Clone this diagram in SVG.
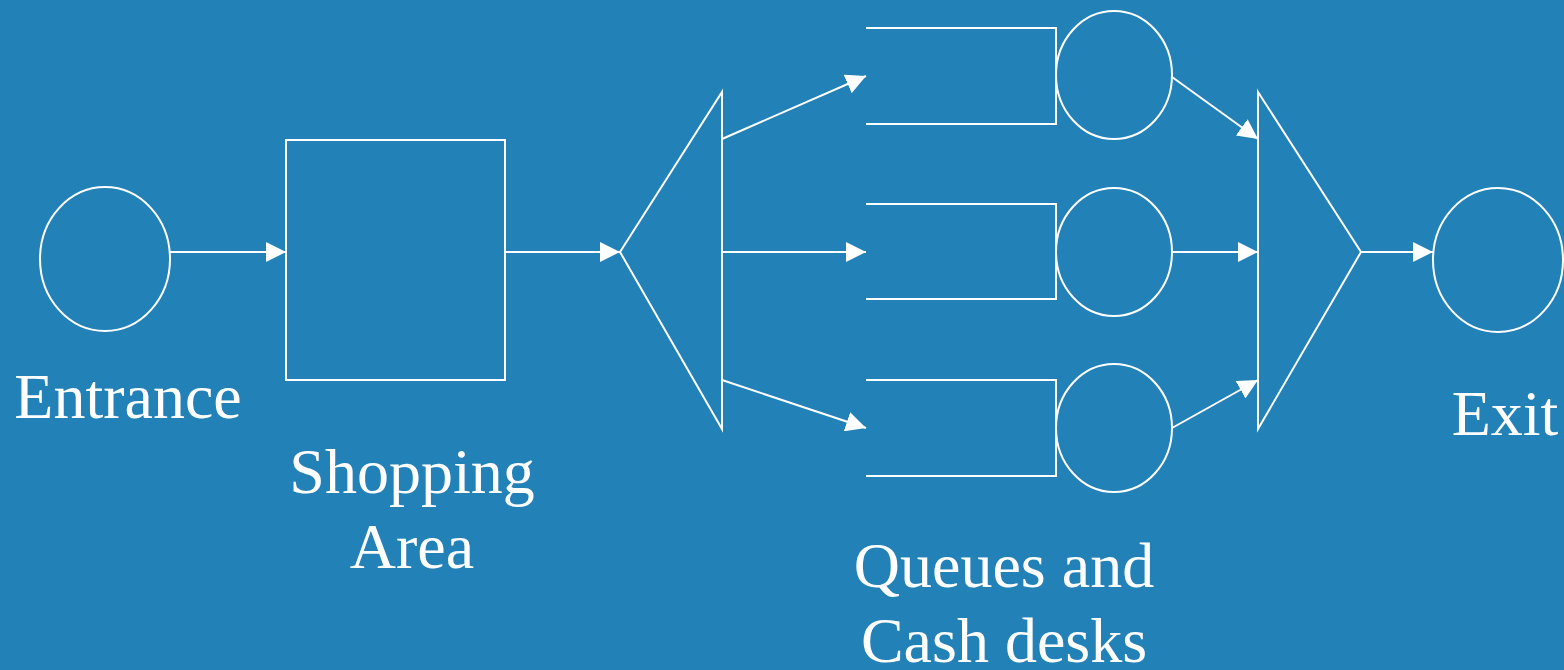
<svg xmlns="http://www.w3.org/2000/svg" width="1564" height="670" viewBox="0 0 1564 670">
  <defs>
    <marker id="arrow" markerWidth="20" markerHeight="20" refX="20" refY="10" orient="auto" markerUnits="userSpaceOnUse">
      <path d="M0,0 L20,10 L0,20 z" fill="#ffffff"/>
    </marker>
    <style>
      .shape { fill: none; stroke: #ffffff; stroke-width: 2; }
      .link { fill: none; stroke: #ffffff; stroke-width: 2; marker-end: url(#arrow); }
      .label { fill: #ffffff; font-family: "Liberation Serif", "Times New Roman", serif; font-size: 64px; text-anchor: middle; }
    </style>
  </defs>
  <rect x="0" y="0" width="1564" height="670" fill="#2281b7"/>

  <g id="entrance">
    <ellipse class="shape" cx="105" cy="259" rx="65" ry="72"/>
    <text class="label" x="128" y="418">Entrance</text>
  </g>

  <g id="shopping-area">
    <rect class="shape" x="286" y="140" width="219" height="240"/>
    <text class="label" x="412" y="493">Shopping</text>
    <text class="label" x="412" y="568">Area</text>
  </g>

  <g id="split">
    <path class="shape" d="M620,252 L722,92 L722,429 Z"/>
  </g>

  <g id="queue-1">
    <path class="shape" d="M866,28 L1056,28 L1056,124 L866,124"/>
    <ellipse class="shape" cx="1114" cy="75" rx="58" ry="64"/>
  </g>
  <g id="queue-2">
    <path class="shape" d="M866,204 L1056,204 L1056,299 L866,299"/>
    <ellipse class="shape" cx="1114" cy="252" rx="58" ry="64"/>
  </g>
  <g id="queue-3">
    <path class="shape" d="M866,380 L1056,380 L1056,476 L866,476"/>
    <ellipse class="shape" cx="1114" cy="428" rx="58" ry="64"/>
  </g>
  <g id="queues-label">
    <text class="label" x="1004" y="587">Queues and</text>
    <text class="label" x="1004" y="662">Cash desks</text>
  </g>

  <g id="merge">
    <path class="shape" d="M1258,92 L1361,252 L1258,429 Z"/>
  </g>

  <g id="exit">
    <ellipse class="shape" cx="1498" cy="260" rx="65" ry="72"/>
    <text class="label" x="1505" y="435">Exit</text>
  </g>

  <g id="connectors">
    <line class="link" x1="170" y1="252" x2="286" y2="252"/>
    <line class="link" x1="505" y1="252" x2="620" y2="252"/>
    <line class="link" x1="722" y1="139" x2="866" y2="76"/>
    <line class="link" x1="722" y1="252" x2="866" y2="252"/>
    <line class="link" x1="722" y1="380" x2="866" y2="428"/>
    <line class="link" x1="1172" y1="77" x2="1258" y2="139"/>
    <line class="link" x1="1172" y1="252" x2="1258" y2="252"/>
    <line class="link" x1="1172" y1="428" x2="1258" y2="380"/>
    <line class="link" x1="1361" y1="252" x2="1433" y2="252"/>
  </g>
</svg>
